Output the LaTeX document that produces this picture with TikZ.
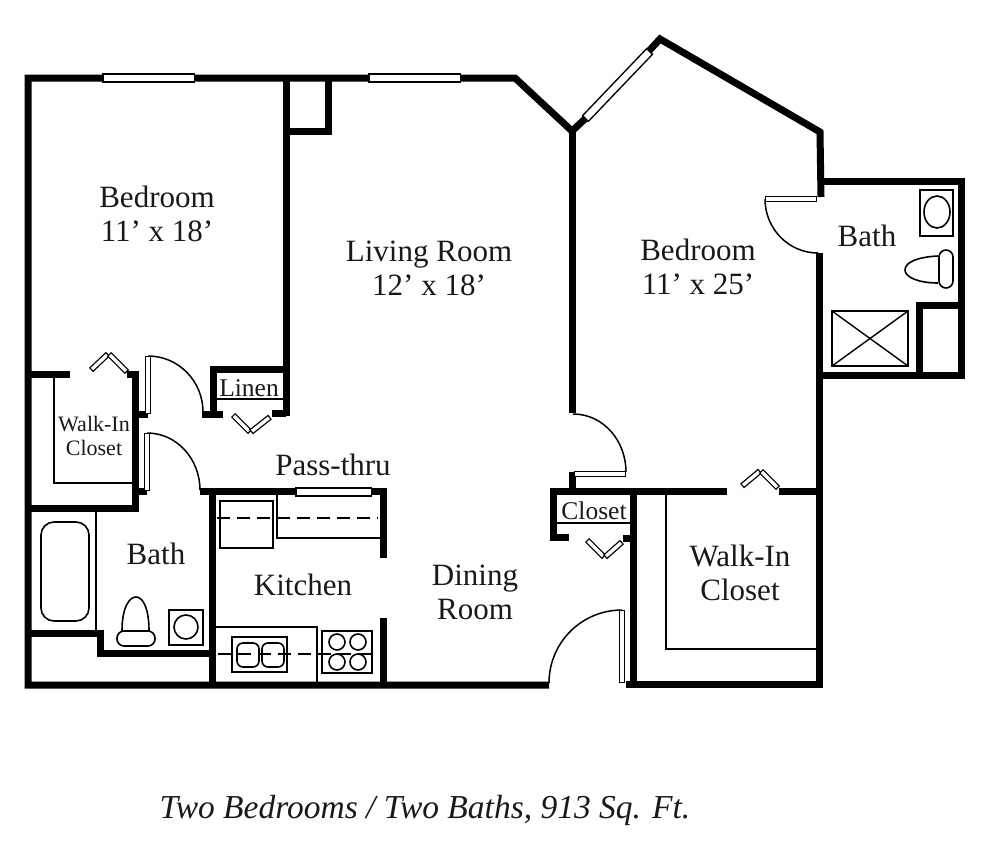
\documentclass[tikz,border=0pt]{standalone}
\usepackage{fontspec}
\setmainfont{Liberation Serif}
\tikzset{wall/.style={line width=7pt,line join=miter},
  thin line/.style={line width=1.4pt},
  fixture/.style={line width=1.6pt,fill=white},
  window out/.style={line width=9.5pt,black},
  window in/.style={line width=6.5pt,white,shorten >=1.5pt,shorten <=1.5pt},
  leaf out/.style={line width=6pt,black},
  leaf in/.style={line width=3.4pt,white,shorten >=1.3pt,shorten <=1.3pt},
  swing/.style={line width=1.5pt},
  big label/.style={align=center,inner sep=0pt,text=black!90,font=\fontsize{31}{34}\selectfont},
  small label/.style={align=center,inner sep=0pt,text=black!90,font=\fontsize{25.5}{27}\selectfont},
  tiny label/.style={align=center,inner sep=0pt,text=black!90,font=\fontsize{22}{24}\selectfont}}
\newcommand{\pane}[3][leaf]{\draw[#1 out] #2 -- #3; \draw[#1 in] #2 -- #3;}
\begin{document}
\begin{tikzpicture}[x=1pt,y=-1pt]
          \useasboundingbox (0,0) rectangle (988,844);

          \draw[wall] (549,685) -- (28,685) -- (28,78) -- (515,78) -- (572,131) -- (586,118);
          \draw[wall] (648,52) -- (660,39) -- (820,132) -- (821,197);
          \draw[wall] (286,78) -- (286,416);
          \draw[wall] (328,78) -- (328,131) -- (286,131);
          \draw[wall] (821,181) -- (961,181) -- (961,375) -- (819,375);
          \draw[wall] (919,375) -- (919,305) -- (961,305);
          \draw[wall] (819,253) -- (819,688);
          \draw[wall] (572,131) -- (572,413);
          \draw[wall] (572,472) -- (572,491);
          \draw[wall] (213,415) -- (213,369) -- (286,369);
          \draw[wall] (202,414) -- (223,414);
          \draw[wall] (272,413) -- (286,413);
          \draw[wall] (28,374) -- (70,374);
          \draw[wall] (127,374) -- (135,374) -- (135,508) -- (28,508);
          \draw[wall] (135,414) -- (148,414);
          \draw[wall] (135,491) -- (147,491);
          \draw[wall] (28,633) -- (100,633) -- (100,653) -- (212,653);
          \draw[wall] (200,491) -- (383,491) -- (383,558);
          \draw[wall] (212,491) -- (212,685);
          \draw[wall] (383,618) -- (383,685);
          \draw[wall] (569,537) -- (553,537) -- (553,491) -- (727,491);
          \draw[wall] (779,491) -- (819,491);
          \draw[wall] (633,491) -- (633,684);
          \draw[wall] (623,538) -- (633,538);
          \draw[wall] (626,684) -- (822,684);

          \pane[window]{(102,78)}{(195,78)}
          \pane[window]{(368,78)}{(461,78)}
          \pane[window]{(295,492)}{(372,492)}
          \pane[window]{(585,119)}{(650,51)}

          \pane{(148,356)}{(148,414)}
          \pane{(147,433)}{(147,491)}
          \pane{(574,474)}{(626,474)}
          \pane{(622,610)}{(622,683)}
          \pane{(765,199)}{(817,199)}
          \pane{(91,370)}{(108,354)}
          \pane{(109,354)}{(127,372)}
          \pane{(233,415)}{(250,432)}
          \pane{(251,432)}{(270,417)}
          \pane{(587,540)}{(604,557)}
          \pane{(605,557)}{(622,542)}
          \pane{(742,486)}{(760,471)}
          \pane{(761,471)}{(778,488)}

          \draw[swing] (148,356) to[out=0,in=90] (203,412);
          \draw[swing] (147,433) to[out=0,in=90] (200,490);
          \draw[swing] (573,414) to[out=0,in=90] (626,472);
          \draw[swing] (622,610) to[out=180,in=90] (549,683);
          \draw[swing] (765,199) to[out=-90,in=180] (818,253);

          \draw[thin line] (54,378) -- (54,483) -- (132,483);
          \draw[thin line] (96,511) -- (96,630);
          \draw[thin line] (217,399) -- (283,399);
          \draw[thin line] (557,523) -- (630,523);
          \draw[thin line] (666,494) -- (666,649) -- (816,649);
          \draw[thin line] (277,495) -- (277,538) -- (380,538);
          \draw[thin line] (216,627) -- (317,627) -- (317,682);

          \draw[fixture,rounded corners=13pt] (41,522) rectangle (89,621);
          \draw[fixture] (122,631) .. controls (122,606) and (130,597) .. (136,597) .. controls (142,597) and (149,606) .. (149,631);
          \draw[fixture,rounded corners=7pt] (117,631) rectangle (155,646);
          \draw[fixture] (169,610) rectangle (203,645);
          \draw[fixture] (186,627) circle (12);

          \draw[fixture] (220,501) rectangle (273,548);
          \draw[fixture] (232,637) rectangle (287,672);
          \draw[fixture,rounded corners=6pt] (237,643) rectangle (259,667);
          \draw[fixture,rounded corners=6pt] (262,643) rectangle (284,667);
          \draw[fixture] (322,631) rectangle (372,673);
          \foreach \burnerx in {337,358}
            \foreach \burnery in {642,662}
              \draw[fixture] (\burnerx,\burnery) circle (8);
          \draw[line width=2pt,dash pattern=on 13pt off 7pt] (217,518) -- (378,518);
          \draw[line width=2pt,dash pattern=on 13pt off 7pt] (218,654) -- (376,654);

          \draw[fixture] (920,190) rectangle (953,236);
          \draw[fixture] (937,212) ellipse (13 and 16);
          \draw[fixture] (938,256) .. controls (918,257) and (905,262) .. (905,270) .. controls (905,277) and (918,283) .. (938,283);
          \draw[fixture,rounded corners=7pt] (939,250) rectangle (953,288);
          \draw[fixture] (832,311) rectangle (908,366);
          \draw[thin line] (832,311) -- (908,366);
          \draw[thin line] (908,311) -- (832,366);

          \node[big label] (bedroom west) at (157,214) {Bedroom\\11’ x 18’};
          \node[big label] (living room) at (429,268) {Living Room\\12’ x 18’};
          \node[big label] (bedroom east) at (698,267) {Bedroom\\11’ x 25’};
          \node[big label] (bath east) at (867,236) {Bath};
          \node[big label] (pass thru) at (333,465) {Pass-thru};
          \node[big label] (kitchen) at (303,585) {Kitchen};
          \node[big label] (dining room) at (475,592) {Dining\\Room};
          \node[big label] (bath west) at (156,554) {Bath};
          \node[big label] (walkin east) at (740,573) {Walk-In\\Closet};
          \node[small label] (linen) at (249,388) {Linen};
          \node[small label] (closet) at (594,511) {Closet};
          \node[tiny label] (walkin west) at (94,436) {Walk-In\\Closet};
          \node[inner sep=0pt,text=black!90,font=\fontsize{33.5}{36}\selectfont\itshape] (caption) at (425,810) {Two Bedrooms / Two Baths, 913 Sq. Ft.};
        \end{tikzpicture}
\end{document}
